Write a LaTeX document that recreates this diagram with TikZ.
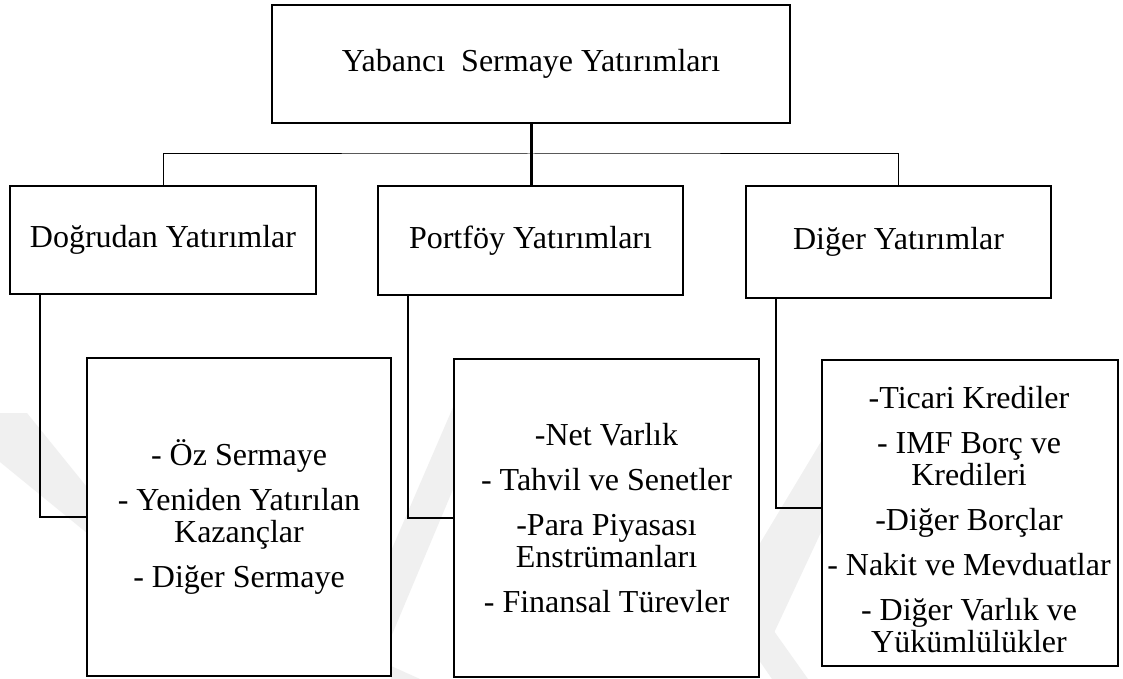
\documentclass[tikz,border=0pt]{standalone}
\usepackage{fontspec}
\setmainfont{Liberation Serif}
\begin{document}
\begin{tikzpicture}[x=1pt,y=-1pt,
  box/.style={draw=black,line width=2pt,fill=white,inner sep=0pt,align=center,anchor=center},
  boxtext/.style={font=\fontsize{32}{32}\selectfont},
  label/.style={inner sep=0pt,align=center,anchor=center,font=\fontsize{32}{32}\selectfont},
  link/.style={draw=black,line width=2pt},
  buslink/.style={draw=black,line width=1pt},
  trunk/.style={draw=black,line width=3pt},
  emblem/.style={fill=black!6,draw=none}]
\useasboundingbox (0,0) rectangle (1123,679);
\fill[white] (0,0) rectangle (1123,679);

% faint background emblem strokes
\path[emblem] (0,413) -- (27,413) -- (120,528) -- (120,560) -- (0,462) -- cycle;
\path[emblem] (391,551) -- (454,405) -- (454,487) -- (391,637) -- cycle;
\path[emblem] (391,666) -- (420,679) -- (391,679) -- cycle;
\path[emblem] (759,545) -- (822,440) -- (822,530) -- (759,665) -- cycle;
\path[emblem] (759,610) -- (808,679) -- (772,679) -- (759,660) -- cycle;

% top level
\node[box,boxtext,minimum width=518pt,minimum height=118pt] (top) at (531,64) {Yabancı\ \ Sermaye Yatırımları};

% second level
\node[box,boxtext,minimum width=306pt,minimum height=108pt] (b1) at (163,240) {Doğrudan Yatırımlar};
\node[box,boxtext,minimum width=305pt,minimum height=109pt] (b2) at (530.5,240.5) {Portföy Yatırımları};
\node[box,boxtext,minimum width=305pt,minimum height=112pt] (b3) at (898.5,242) {Diğer Yatırımlar};

% third level
\node[box,boxtext,minimum width=304pt,minimum height=318pt] (c1) at (239,517)
  {- Öz Sermaye\\[13pt]- Yeniden Yatırılan\\Kazançlar\\[13pt]- Diğer Sermaye};
\node[box,boxtext,minimum width=305pt,minimum height=318pt] (c2) at (606.5,518)
  {-Net Varlık\\[13pt]- Tahvil ve Senetler\\[13pt]-Para Piyasası\\Enstrümanları\\[13pt]- Finansal Türevler};
\node[box,minimum width=296pt,minimum height=306pt] (c3) at (970,513) {};
\node[label] (c3text) at (969,520)
  {-Ticari Krediler\\[13pt]- IMF Borç ve\\Kredileri\\[13pt]-Diğer Borçlar\\[13pt]- Nakit ve Mevduatlar\\[13pt]- Diğer Varlık ve\\Yükümlülükler};

% connectors
\coordinate (bus) at (531,154);
\draw[trunk] (top.south) -- (top.south |- b2.north);
\draw[buslink] (b1.north) |- (bus) -| (b3.north);
\draw[link] ([xshift=31pt]b1.south west) |- (c1.west);
\draw[link] ([xshift=31pt]b2.south west) |- (c2.west);
\draw[link] ([xshift=31pt]b3.south west) |- ([yshift=5pt]c3.west);
\end{tikzpicture}
\end{document}
